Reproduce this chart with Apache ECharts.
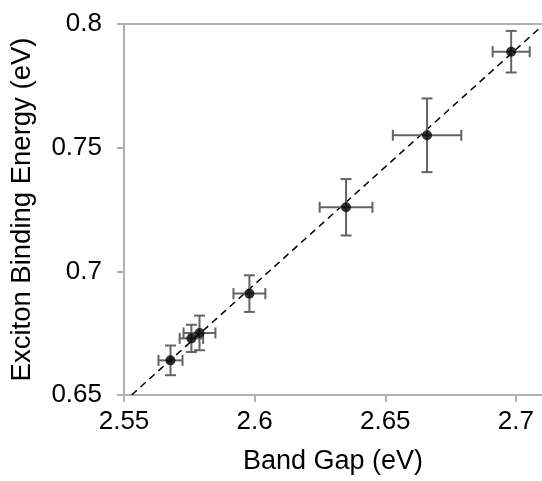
<!DOCTYPE html>
<html>
<head>
<meta charset="utf-8">
<script src="https://cdn.jsdelivr.net/npm/echarts@6/dist/echarts.min.js"></script>
<style>html,body{margin:0;padding:0;background:#fff;}#c{width:542px;height:481px;}</style>
</head>
<body>
<div id="c"></div>
<script>
// Data
const bandGap     = [2.5678, 2.5758, 2.5789, 2.5980, 2.6350, 2.6660, 2.6982];
const bindEnergy  = [0.6640, 0.6729, 0.6751, 0.6910, 0.7259, 0.7550, 0.7888];
const xErr        = [0.0046, 0.0045, 0.0061, 0.0061, 0.0101, 0.0131, 0.0071];
const yErr        = [0.0060, 0.0055, 0.0070, 0.0074, 0.0114, 0.0149, 0.0084];
const trendX      = [2.5529, 2.7100];
const trendY      = [0.6500, 0.7992];
const xTicks      = [2.55, 2.6, 2.65, 2.7];
const yTicks      = [0.65, 0.7, 0.75, 0.8];

const points = bandGap.map((x, i) => [x, bindEnergy[i]]);
const errData = bandGap.map((x, i) => [x, bindEnergy[i], xErr[i], yErr[i]]);
const trend = trendX.map((x, i) => [x, trendY[i]]);

const FONT = 'Liberation Sans, Arial, sans-serif';
const AXIS_COLOR = '#b0b0b0';
const ERR_COLOR = '#636363';
const CAP = 5.5;

const chart = echarts.init(document.getElementById('c'), null, {renderer: 'canvas'});
chart.setOption({
  animation: false,
  backgroundColor: '#fff',
  grid: {left: 124, top: 24, right: -1, bottom: 86, show: false},
  xAxis: [{
    type: 'value', min: 2.55, max: 2.71, interval: 0.05,
    name: 'Band Gap (eV)', nameLocation: 'middle', nameGap: 53,
    nameTextStyle: {fontFamily: FONT, fontSize: 27, color: '#000'},
    axisLine: {lineStyle: {color: AXIS_COLOR, width: 2}},
    axisTick: {show: true, length: 7, lineStyle: {color: AXIS_COLOR, width: 2}},
    axisLabel: {fontFamily: FONT, fontSize: 26, color: '#000', margin: 14, showMaxLabel: false,
      formatter: v => xTicks.some(t => Math.abs(t - v) < 1e-9) ? String(+v.toFixed(2)) : ''},
    splitLine: {show: false}
  }, {
    type: 'value', position: 'top', min: 2.55, max: 2.71,
    axisLine: {show: true, onZero: false, lineStyle: {color: AXIS_COLOR, width: 2}},
    axisTick: {show: false}, axisLabel: {show: false}, splitLine: {show: false}
  }],
  yAxis: {
    type: 'value', min: 0.65, max: 0.8, interval: 0.05,
    name: 'Exciton Binding Energy (eV)', nameLocation: 'middle', nameGap: 88,
    nameTextStyle: {fontFamily: FONT, fontSize: 27.5, color: '#000'},
    axisLine: {show: true, lineStyle: {color: AXIS_COLOR, width: 2}},
    axisTick: {show: true, length: 7, lineStyle: {color: AXIS_COLOR, width: 2}},
    axisLabel: {fontFamily: FONT, fontSize: 26, color: '#000', margin: 22,
      formatter: v => yTicks.some(t => Math.abs(t - v) < 1e-9) ? String(+v.toFixed(2)) : ''},
    splitLine: {show: false}
  },
  series: [
    {
      type: 'line', data: trend, showSymbol: false, symbol: 'none',
      lineStyle: {color: '#000', width: 1.5, type: [7, 5]}, z: 2, silent: true
    },
    {
      type: 'custom', data: errData, z: 3, silent: true,
      renderItem: function (params, api) {
        const x = api.value(0), y = api.value(1), ex = api.value(2), ey = api.value(3);
        const l = api.coord([x - ex, y]), r = api.coord([x + ex, y]);
        const t = api.coord([x, y + ey]), b = api.coord([x, y - ey]);
        const st = {stroke: ERR_COLOR, lineWidth: 2, fill: null};
        return {type: 'group', children: [
          {type: 'line', shape: {x1: l[0], y1: l[1], x2: r[0], y2: r[1]}, style: st},
          {type: 'line', shape: {x1: l[0], y1: l[1] - CAP, x2: l[0], y2: l[1] + CAP}, style: st},
          {type: 'line', shape: {x1: r[0], y1: r[1] - CAP, x2: r[0], y2: r[1] + CAP}, style: st},
          {type: 'line', shape: {x1: t[0], y1: t[1], x2: b[0], y2: b[1]}, style: st},
          {type: 'line', shape: {x1: t[0] - CAP, y1: t[1], x2: t[0] + CAP, y2: t[1]}, style: st},
          {type: 'line', shape: {x1: b[0] - CAP, y1: b[1], x2: b[0] + CAP, y2: b[1]}, style: st}
        ]};
      }
    },
    {
      type: 'scatter', data: points, symbol: 'circle', symbolSize: 10,
      itemStyle: {color: '#000'}, z: 4, silent: true
    }
  ]
});
</script>
</body>
</html>
